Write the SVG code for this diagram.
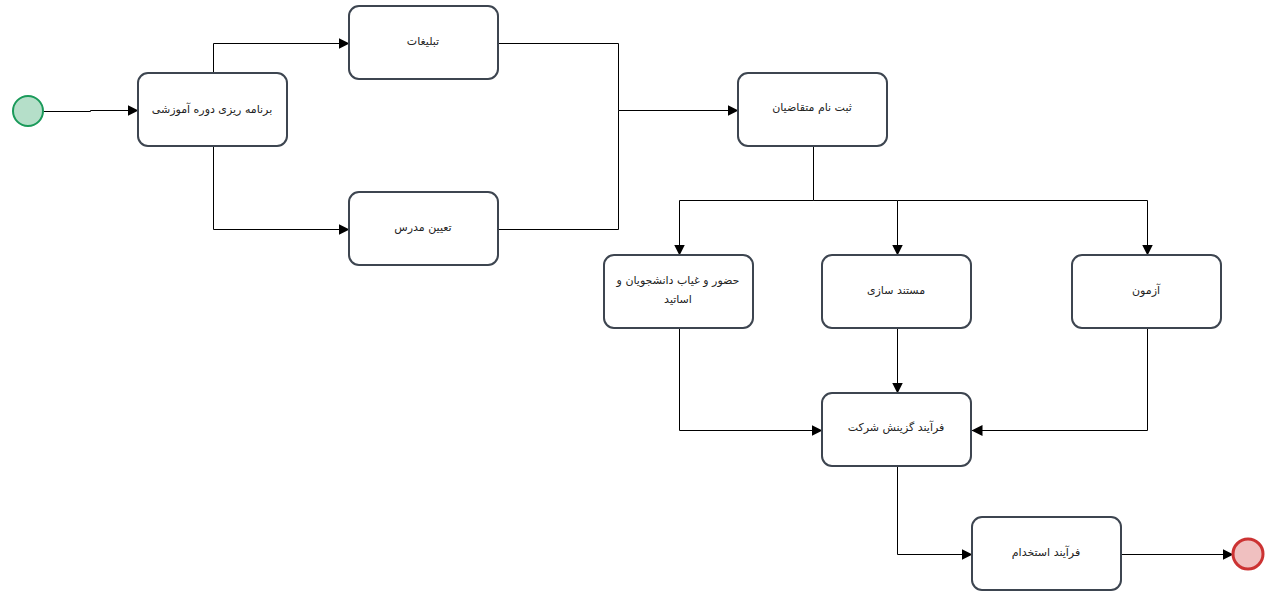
<svg xmlns="http://www.w3.org/2000/svg" width="1275" height="600" viewBox="0 0 1275 600">
<style>
.node rect{fill:#ffffff;stroke:#3d4550;stroke-width:2}
.node text{font-family:"DejaVu Sans","Noto Sans",sans-serif;font-size:11px;fill:#222;text-anchor:middle}
.edge{fill:none;stroke:#000;stroke-width:1}
</style>
<defs>
<marker id="arr" viewBox="0 0 10 10" refX="10" refY="5" markerWidth="11" markerHeight="11" markerUnits="userSpaceOnUse" orient="auto">
<path d="M0,0 L10,5 L0,10 Z" fill="#000"/>
</marker>
</defs>
<rect width="1275" height="600" fill="#ffffff"/>
<g id="connectors" transform="translate(0.5,0.5)">
<path class="edge" d="M43,111 H90 V110 H138" marker-end="url(#arr)"/>
<path class="edge" d="M213,73 V43 H349" marker-end="url(#arr)"/>
<path class="edge" d="M213,146 V229 H349" marker-end="url(#arr)"/>
<path class="edge" d="M498,43 H618 V110 H738" marker-end="url(#arr)"/>
<path class="edge" d="M498,229 H618 V110"/>
<path class="edge" d="M813,146 V200 H679 V255" marker-end="url(#arr)"/>
<path class="edge" d="M813,200 H897 V255" marker-end="url(#arr)"/>
<path class="edge" d="M897,200 H1147 V255" marker-end="url(#arr)"/>
<path class="edge" d="M679,328 V430 H822" marker-end="url(#arr)"/>
<path class="edge" d="M897,328 V393" marker-end="url(#arr)"/>
<path class="edge" d="M1147,328 V430 H971" marker-end="url(#arr)"/>
<path class="edge" d="M897,466 V554 H972" marker-end="url(#arr)"/>
<path class="edge" d="M1121,554 H1233" marker-end="url(#arr)"/>
</g>
<g id="start"><circle cx="28" cy="111" r="15" fill="#b5dfc9" stroke="#1a9a5a" stroke-width="2"/></g>
<g id="end"><circle cx="1248" cy="554" r="15" fill="#f0c0c0" stroke="#cc3333" stroke-width="3"/></g>
<g id="n1" class="node"><rect x="138" y="73" width="149" height="73" rx="10"/><text x="212" y="113" direction="rtl">برنامه ریزی دوره آموزشی</text></g>
<g id="n2" class="node"><rect x="349" y="6" width="149" height="73" rx="10"/><text x="423" y="45" direction="rtl">تبلیغات</text></g>
<g id="n3" class="node"><rect x="349" y="192" width="149" height="73" rx="10"/><text x="423" y="231" direction="rtl">تعیین مدرس</text></g>
<g id="n4" class="node"><rect x="738" y="73" width="149" height="73" rx="10"/><text x="812" y="111" direction="rtl">ثبت نام متقاضیان</text></g>
<g id="n5" class="node"><rect x="604" y="255" width="149" height="73" rx="10"/><text x="678" y="284" direction="rtl">حضور و غیاب دانشجویان و</text><text x="678" y="303" direction="rtl">اساتید</text></g>
<g id="n6" class="node"><rect x="822" y="255" width="149" height="73" rx="10"/><text x="896" y="294" direction="rtl">مستند سازی</text></g>
<g id="n7" class="node"><rect x="1072" y="255" width="149" height="73" rx="10"/><text x="1146" y="294" direction="rtl">آزمون</text></g>
<g id="n8" class="node"><rect x="822" y="393" width="149" height="73" rx="10"/><text x="896" y="431" direction="rtl">فرآیند گزینش شرکت</text></g>
<g id="n9" class="node"><rect x="972" y="517" width="149" height="73" rx="10"/><text x="1046" y="556" direction="rtl">فرآیند استخدام</text></g>
</svg>
